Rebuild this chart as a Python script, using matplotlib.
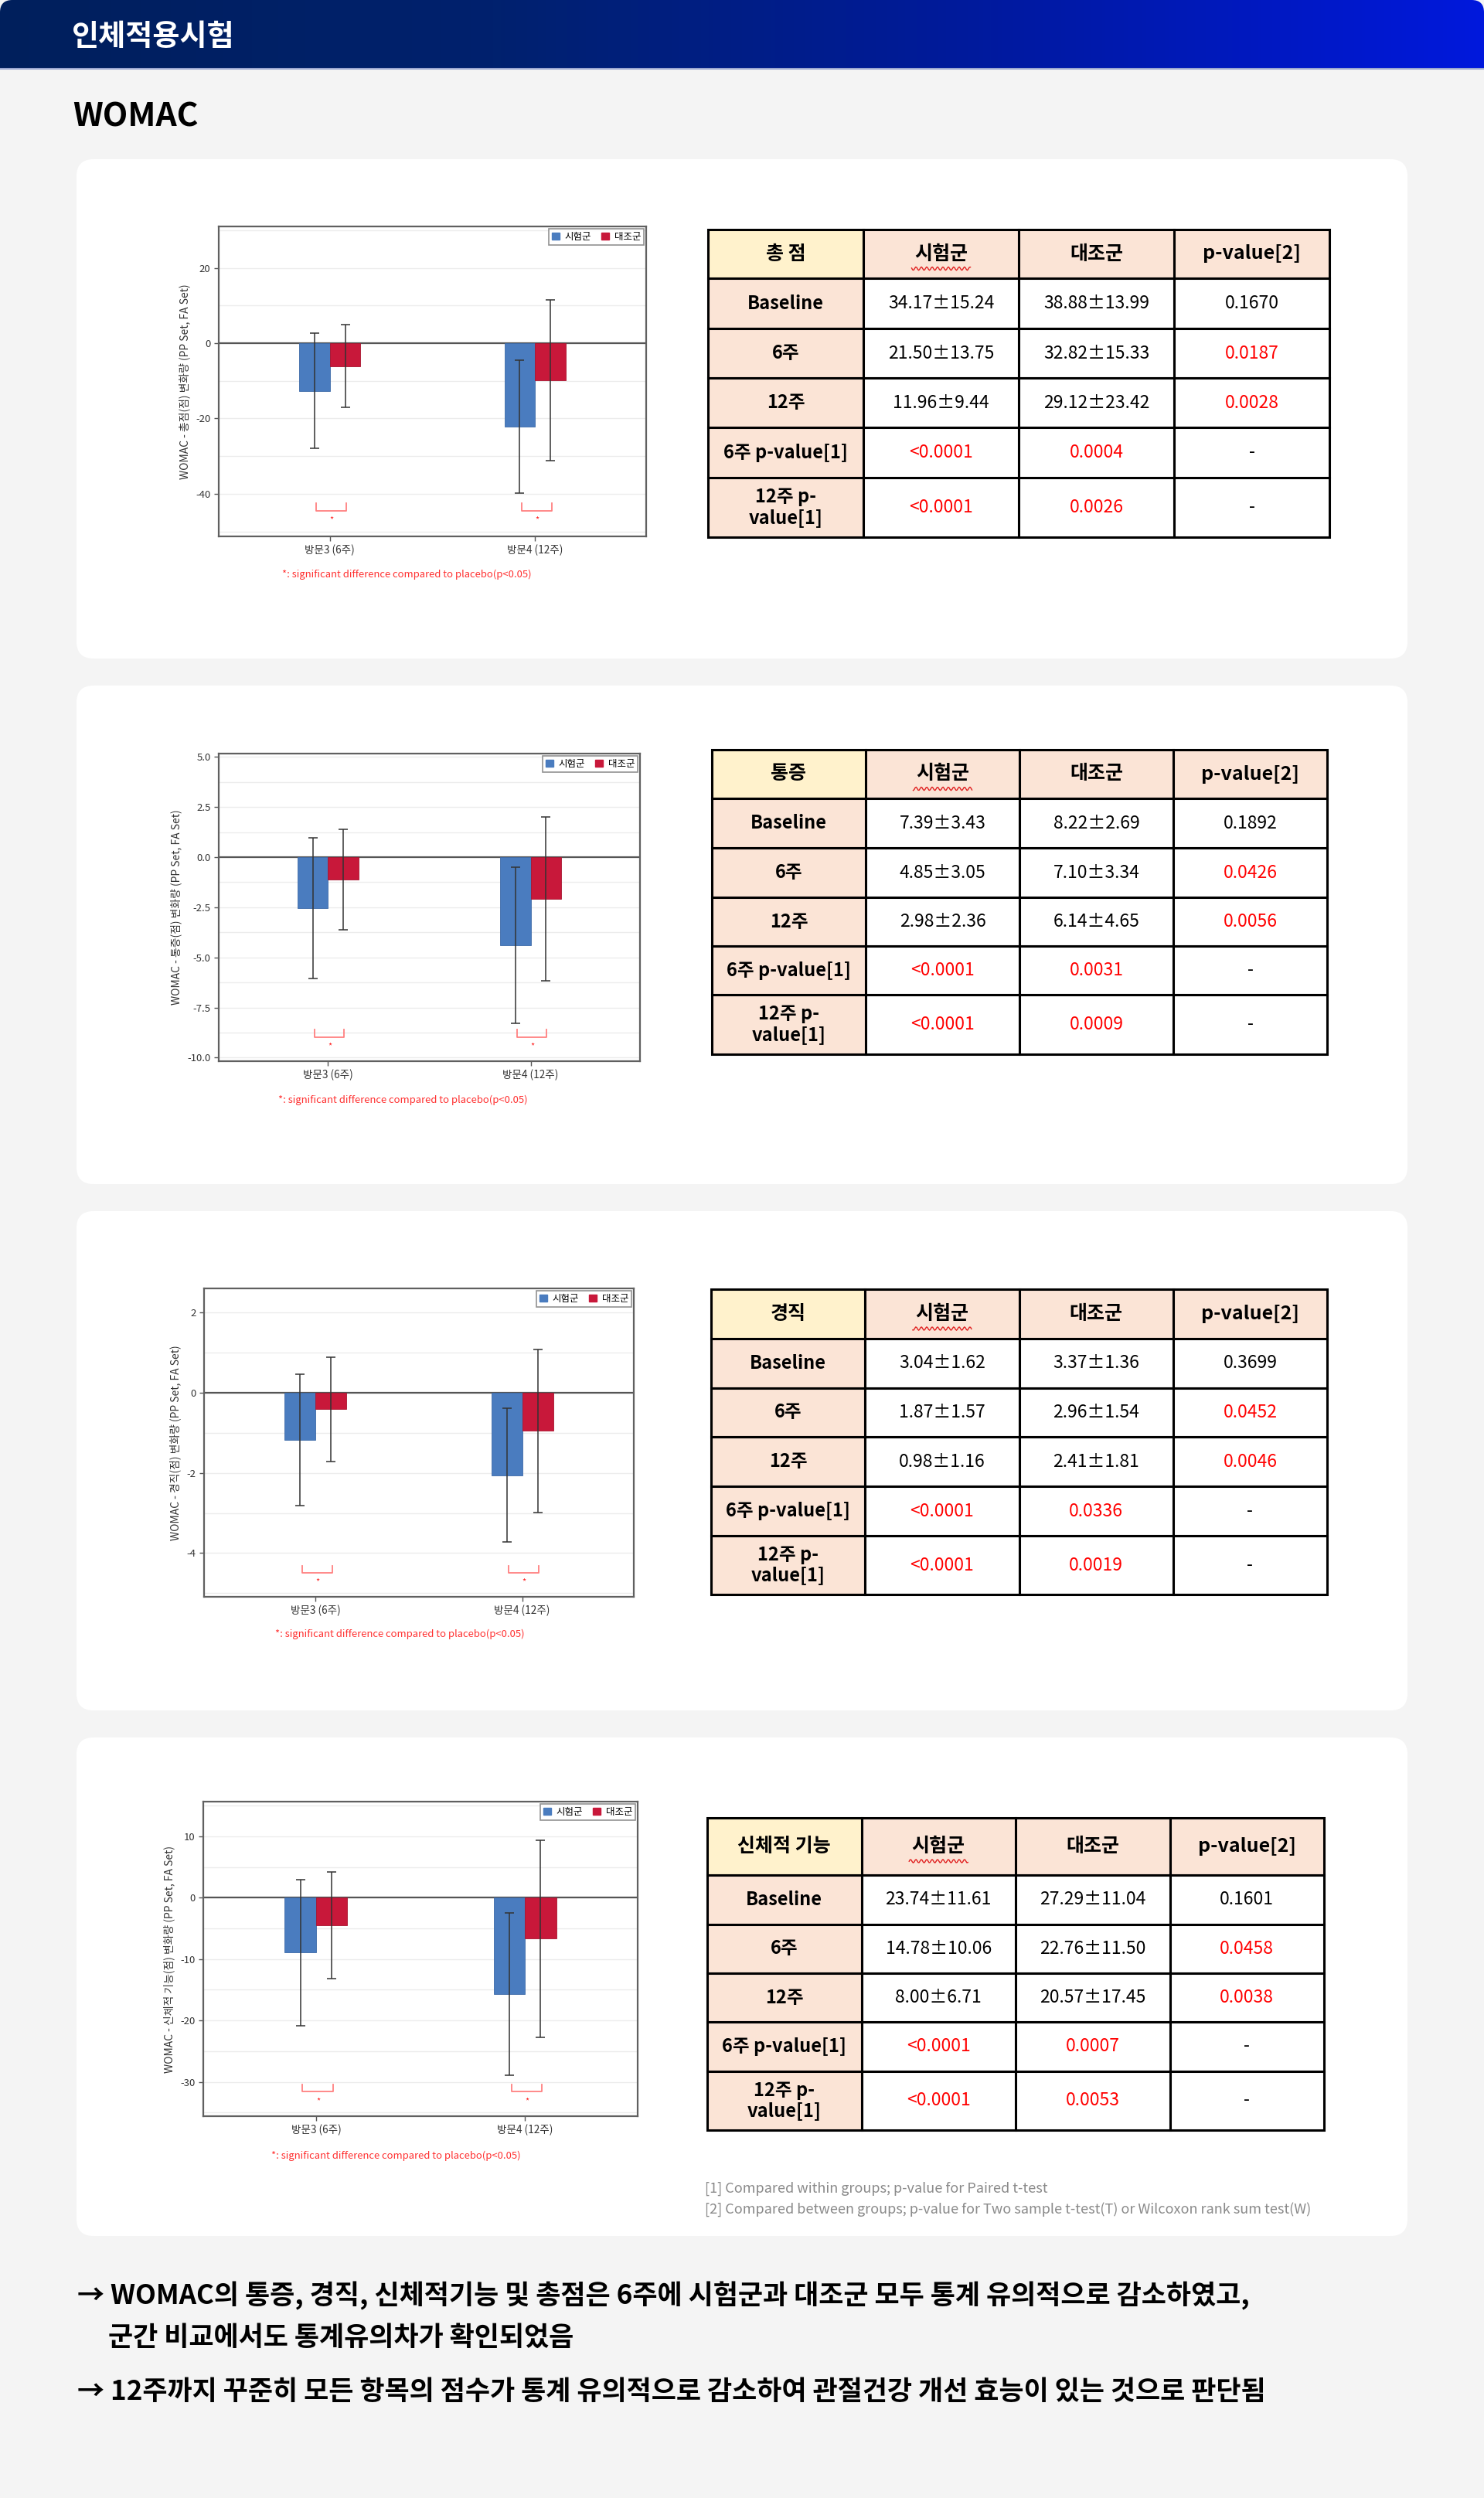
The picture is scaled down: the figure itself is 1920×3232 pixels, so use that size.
import matplotlib.pyplot as plt
import numpy as np
from matplotlib.patches import FancyBboxPatch, Rectangle, Patch
from matplotlib.colors import LinearSegmentedColormap

plt.rcParams['font.family'] = ['Noto Sans CJK KR', 'DejaVu Sans']
plt.rcParams['axes.unicode_minus'] = False

W, H = 1920, 3232

# ---- data -------------------------------------------------------------
visits = ["방문3 (6주)", "방문4 (12주)"]
groups = ["시험군", "대조군"]

# change from baseline, mean and SD
total_trt = [-12.7, -22.2]
total_trt_sd = [15.3, 17.6]
total_ctl = [-6.1, -9.8]
total_ctl_sd = [11.0, 21.3]

pain_trt = [-2.54, -4.40]
pain_trt_sd = [3.50, 3.89]
pain_ctl = [-1.12, -2.08]
pain_ctl_sd = [2.51, 4.10]

stiff_trt = [-1.18, -2.06]
stiff_trt_sd = [1.64, 1.67]
stiff_ctl = [-0.41, -0.95]
stiff_ctl_sd = [1.30, 2.03]

func_trt = [-8.95, -15.7]
func_trt_sd = [11.93, 13.26]
func_ctl = [-4.52, -6.69]
func_ctl_sd = [8.70, 16.05]

col_heads = ["시험군", "대조군", "p-value[2]"]
row_heads = ["Baseline", "6주", "12주", "6주 p-value[1]", "12주 p-\nvalue[1]"]

total_tab = [["34.17±15.24", "38.88±13.99", "0.1670"],
             ["21.50±13.75", "32.82±15.33", "0.0187"],
             ["11.96±9.44", "29.12±23.42", "0.0028"],
             ["<0.0001", "0.0004", "-"],
             ["<0.0001", "0.0026", "-"]]
pain_tab = [["7.39±3.43", "8.22±2.69", "0.1892"],
            ["4.85±3.05", "7.10±3.34", "0.0426"],
            ["2.98±2.36", "6.14±4.65", "0.0056"],
            ["<0.0001", "0.0031", "-"],
            ["<0.0001", "0.0009", "-"]]
stiff_tab = [["3.04±1.62", "3.37±1.36", "0.3699"],
             ["1.87±1.57", "2.96±1.54", "0.0452"],
             ["0.98±1.16", "2.41±1.81", "0.0046"],
             ["<0.0001", "0.0336", "-"],
             ["<0.0001", "0.0019", "-"]]
func_tab = [["23.74±11.61", "27.29±11.04", "0.1601"],
            ["14.78±10.06", "22.76±11.50", "0.0458"],
            ["8.00±6.71", "20.57±17.45", "0.0038"],
            ["<0.0001", "0.0007", "-"],
            ["<0.0001", "0.0053", "-"]]

BLUE = "#4a7cbf"
RED = "#c8183a"
PEACH = "#fbe4d6"
CREAM = "#fff2cc"

fig = plt.figure(figsize=(W / 100, H / 100), dpi=100, facecolor="#f4f4f4")
bg = fig.add_axes([0, 0, 1, 1])
bg.set_xlim(0, W)
bg.set_ylim(H, 0)
bg.axis("off")

# header band with gradient
cmap = LinearSegmentedColormap.from_list("hdr", ["#001f5c", "#00216e", "#001a9e", "#0018dc"])
grad = np.linspace(0, 1, 400).reshape(1, -1)
hdr_clip = FancyBboxPatch((0 + 16, 0 + 16), W - 32, 120, boxstyle="round,pad=16",
                          transform=bg.transData, facecolor="none", edgecolor="none")
bg.add_patch(hdr_clip)
im = bg.imshow(grad, cmap=cmap, extent=[0, W, 89, 0], aspect="auto", zorder=1)
im.set_clip_path(hdr_clip)
bg.plot([0, W], [89, 89], color="#9aa6cf", lw=1.5, zorder=2)
bg.text(93, 47, "인체적용시험", color="white", fontsize=27.5, fontweight="bold", va="center", ha="left", zorder=3)
bg.text(94, 152, "WOMAC", color="black", fontsize=30.5, fontweight="bold", va="center", ha="left")

# cards
cards = [(206, 852), (887, 1532), (1567, 2213), (2248, 2893)]
r = 22
for y0, y1 in cards:
    bg.add_patch(FancyBboxPatch((99 + r, y0 + r), 1722 - 2 * r, y1 - y0 - 2 * r,
                                boxstyle=f"round,pad={r}", facecolor="white", edgecolor="none", zorder=1))


def draw_table(title, data, x0, x1, rows):
    xs = np.linspace(x0, x1, 5)
    for ri in range(6):
        for ci in range(4):
            if ri == 0 and ci == 0:
                fc = CREAM
            elif ri == 0 or ci == 0:
                fc = PEACH
            else:
                fc = "white"
            bg.add_patch(Rectangle((xs[ci], rows[ri]), xs[ci + 1] - xs[ci], rows[ri + 1] - rows[ri],
                                   facecolor=fc, edgecolor="black", lw=2.2, zorder=2))
            cx = (xs[ci] + xs[ci + 1]) / 2
            cy = (rows[ri] + rows[ri + 1]) / 2
            if ri == 0:
                txt = title if ci == 0 else col_heads[ci - 1]
                bg.text(cx, cy, txt, ha="center", va="center", fontsize=18, fontweight="bold", zorder=3)
                if ci == 1:
                    wx = np.linspace(cx - 38, cx + 38, 60)
                    bg.plot(wx, cy + 19 + 2.2 * np.sin(wx * 0.9), color="#e02020", lw=1.0, zorder=3)
            elif ci == 0:
                bg.text(cx, cy, row_heads[ri - 1], ha="center", va="center", fontsize=17,
                        fontweight="bold", linespacing=1.15, zorder=3)
            else:
                red = (ri >= 4 and ci < 3) or (ci == 3 and ri in (2, 3))
                bg.text(cx, cy, data[ri - 1][ci - 1], ha="center", va="center", fontsize=16.5,
                        color="#ff0000" if red else "black", zorder=3)


draw_table("총 점", total_tab, 916, 1720, [297, 360, 425, 489, 553, 618, 695])
draw_table("통증", pain_tab, 921, 1717, [970, 1033, 1097, 1161, 1224, 1287, 1364])
draw_table("경직", stiff_tab, 920, 1717, [1668, 1732, 1796, 1859, 1923, 1987, 2063])
draw_table("신체적 기능", func_tab, 915, 1713, [2352, 2426, 2490, 2553, 2616, 2680, 2756])

bg.text(912, 2832, "[1] Compared within groups; p-value for Paired t-test", fontsize=13,
        color="#8a8a8a", va="center", ha="left")
bg.text(912, 2859, "[2] Compared between groups; p-value for Two sample t-test(T) or Wilcoxon rank sum test(W)",
        fontsize=13, color="#8a8a8a", va="center", ha="left")


def draw_chart(box, trt, trt_sd, ctl, ctl_sd, ylim, major, minor, fmt, ylabel, brk, foot_xy):
    x0, x1, y0, y1 = box
    ax = fig.add_axes([x0 / W, 1 - y1 / H, (x1 - x0) / W, (y1 - y0) / H], zorder=5)
    pos = np.arange(len(visits))
    bw = 0.15
    ax.bar(pos - bw / 2, trt, bw, color=BLUE, edgecolor="#3d6aa8", lw=0.6, zorder=3, label=groups[0])
    ax.bar(pos + bw / 2, ctl, bw, color=RED, edgecolor="#a8142f", lw=0.6, zorder=3, label=groups[1])
    ax.errorbar(pos - bw / 2, trt, yerr=trt_sd, fmt="none", ecolor="#333333", elinewidth=1.1,
                capsize=4, capthick=1.1, zorder=4)
    ax.errorbar(pos + bw / 2, ctl, yerr=ctl_sd, fmt="none", ecolor="#333333", elinewidth=1.1,
                capsize=4, capthick=1.1, zorder=4)
    ax.axhline(0, color="#555555", lw=1.6, zorder=2)
    ax.set_xlim(-0.54, 1.54)
    ax.set_ylim(*ylim)
    ax.set_xticks(pos)
    ax.set_xticklabels(visits, fontsize=9.8, color="#333333")
    ax.set_yticks(major)
    ax.set_yticklabels([fmt.format(v) for v in major], fontsize=9.5, color="#333333")
    ax.set_yticks(minor, minor=True)
    ax.tick_params(axis="y", which="minor", length=0)
    ax.tick_params(axis="both", which="major", length=4, color="#555555", width=1)
    ax.grid(axis="y", which="both", color="#ececec", lw=1, zorder=0)
    for s in ax.spines.values():
        s.set_color("#606060")
        s.set_linewidth(1.6)
    ax.set_ylabel(ylabel, fontsize=10, color="#333333", labelpad=5)
    # significance brackets
    top, bot, star = brk
    for p in pos:
        ax.plot([p - 0.065, p - 0.065, p + 0.08, p + 0.08], [top, bot, bot, top],
                color="#ff8080", lw=1.3, zorder=4)
        ax.text(p + 0.01, star, "*", color="#ff2020", fontsize=8, ha="center", va="center")
    handles = [Patch(facecolor=BLUE, edgecolor=BLUE), Patch(facecolor=RED, edgecolor=RED)]
    leg = ax.legend(handles, groups, loc="upper right", ncol=2, fontsize=9, frameon=True,
                    fancybox=False, handlelength=0.8, handleheight=0.8, handletextpad=0.5,
                    columnspacing=1.1, borderpad=0.3, borderaxespad=0.25)
    leg.get_frame().set_edgecolor("#777777")
    leg.get_frame().set_linewidth(1.2)
    bg.text(foot_xy[0], foot_xy[1], "*: significant difference compared to placebo(p<0.05)",
            fontsize=9.4, color="#ff3030", va="center", ha="left")
    return ax


draw_chart((283, 836, 293, 694), total_trt, total_trt_sd, total_ctl, total_ctl_sd,
           (-51.3, 31), [-40, -20, 0, 20], np.arange(-50, 31, 10), "{:g}",
           "WOMAC - 총점(점) 변화량 (PP Set, FA Set)", (-42.5, -44.5, -46.9), (365, 743))
draw_chart((283, 828, 975, 1373), pain_trt, pain_trt_sd, pain_ctl, pain_ctl_sd,
           (-10.18, 5.17), [-10, -7.5, -5, -2.5, 0, 2.5, 5], np.arange(-10, 5.1, 1.25), "{:.1f}",
           "WOMAC - 통증(점) 변화량 (PP Set, FA Set)", (-8.6, -8.97, -9.42), (360, 1423))
draw_chart((264, 820, 1667, 2066), stiff_trt, stiff_trt_sd, stiff_ctl, stiff_ctl_sd,
           (-5.09, 2.6), [-4, -2, 0, 2], np.arange(-5, 2.6, 1), "{:g}",
           "WOMAC - 경직(점) 변화량 (PP Set, FA Set)", (-4.31, -4.49, -4.71), (356, 2114))
draw_chart((263, 825, 2331, 2738), func_trt, func_trt_sd, func_ctl, func_ctl_sd,
           (-35.6, 15.65), [-30, -20, -10, 0, 10], np.arange(-35, 16, 5), "{:g}",
           "WOMAC - 신체적 기능(점) 변화량 (PP Set, FA Set)", (-30.4, -31.6, -33.1), (351, 2789))

# conclusions
bg.text(100, 2970, "→ WOMAC의 통증, 경직, 신체적기능 및 총점은 6주에 시험군과 대조군 모두 통계 유의적으로 감소하였고,",
        fontsize=25.2, fontweight="bold", va="center", ha="left")
bg.text(140, 3024, "군간 비교에서도 통계유의차가 확인되었음", fontsize=25.2, fontweight="bold", va="center", ha="left")
bg.text(100, 3094, "→ 12주까지 꾸준히 모든 항목의 점수가 통계 유의적으로 감소하여 관절건강 개선 효능이 있는 것으로 판단됨",
        fontsize=25.2, fontweight="bold", va="center", ha="left")

fig.savefig("out.png", dpi=100, facecolor=fig.get_facecolor())
